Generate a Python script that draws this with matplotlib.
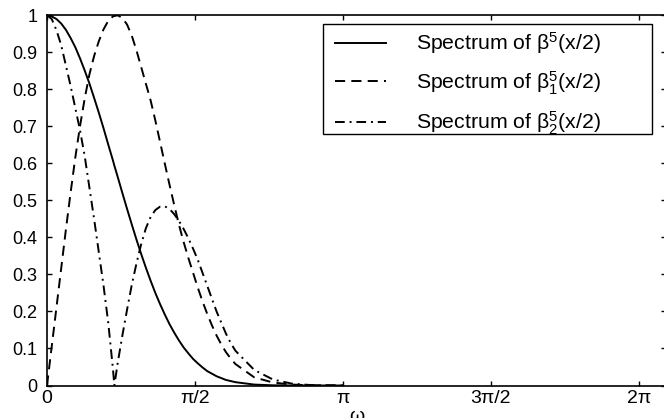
import numpy as np
import matplotlib
matplotlib.use("Agg")
import matplotlib.pyplot as plt
from matplotlib.patches import Rectangle

plt.rcParams['font.family'] = ['Liberation Sans', 'DejaVu Sans']
plt.rcParams['mathtext.fontset'] = 'custom'
plt.rcParams['mathtext.rm'] = 'Liberation Sans'
plt.rcParams['mathtext.it'] = 'Liberation Sans:italic'
plt.rcParams['mathtext.bf'] = 'Liberation Sans:bold'

# frequency samples (rad)
omega = [0.0, 0.05, 0.1, 0.15, 0.2, 0.25, 0.3, 0.35, 0.4, 0.45, 0.5, 0.55, 0.6, 0.65, 0.7, 0.715,
         0.75, 0.8, 0.85, 0.9, 0.95, 1.0, 1.05, 1.1, 1.15, 1.2, 1.25, 1.3, 1.35, 1.4, 1.45, 1.5,
         1.55, 1.6, 1.65, 1.7, 1.75, 1.8, 1.85, 1.9, 1.95, 2.0, 2.2, 2.4, 2.6, 2.8, 3.0, 3.14]

# Spectrum of beta^5(x/2)
spec_b = [1.0, 0.997, 0.990, 0.978, 0.961, 0.939, 0.914, 0.884, 0.851, 0.816, 0.777, 0.737, 0.695, 0.651, 0.608, 0.594,
          0.564, 0.520, 0.477, 0.435, 0.394, 0.355, 0.318, 0.283, 0.250, 0.220, 0.192, 0.166, 0.143, 0.122, 0.103, 0.087,
          0.072, 0.060, 0.049, 0.039, 0.032, 0.025, 0.020, 0.015, 0.012, 0.009, 0.0025, 0.0005, 0.0001, 0.0, 0.0, 0.0]

# Spectrum of beta_1^5(x/2)
spec_b1 = [0.0, 0.105, 0.21, 0.315, 0.42, 0.52, 0.615, 0.70, 0.775, 0.84, 0.89, 0.93, 0.962, 0.985, 0.997, 0.998,
           1.0, 0.993, 0.975, 0.945, 0.905, 0.86, 0.815, 0.77, 0.716, 0.658, 0.60, 0.543, 0.488, 0.435, 0.388, 0.345,
           0.305, 0.265, 0.228, 0.194, 0.163, 0.135, 0.111, 0.09, 0.073, 0.058, 0.022, 0.008, 0.0025, 0.0006, 0.0001, 0.0]

# Spectrum of beta_2^5(x/2)
spec_b2 = [1.0, 0.99, 0.96, 0.92, 0.865, 0.81, 0.75, 0.69, 0.62, 0.535, 0.45, 0.36, 0.27, 0.17, 0.045, 0.0,
           0.06, 0.135, 0.205, 0.272, 0.33, 0.382, 0.425, 0.455, 0.474, 0.483, 0.484, 0.477, 0.463, 0.445, 0.423, 0.398,
           0.37, 0.34, 0.305, 0.27, 0.235, 0.2, 0.17, 0.14, 0.115, 0.094, 0.042, 0.016, 0.005, 0.0012, 0.0002, 0.0]

labels = [r'Spectrum of β$^5$(x/2)', r'Spectrum of β$_1^5$(x/2)', r'Spectrum of β$_2^5$(x/2)']
xtick_vals = [0, np.pi / 2, np.pi, 3 * np.pi / 2, 2 * np.pi]
xtick_labels = ['0', 'π/2', 'π', '3π/2', '2π']
ytick_vals = [0, 0.1, 0.2, 0.3, 0.4, 0.5, 0.6, 0.7, 0.8, 0.9, 1]
ytick_labels = ['0', '0.1', '0.2', '0.3', '0.4', '0.5', '0.6', '0.7', '0.8', '0.9', '1']

W, H = 664, 418
fig = plt.figure(figsize=(W / 100, H / 100), dpi=100)
L, R, T, B = 47, 666, 15.3, 385.5
ax = fig.add_axes([L / W, 1 - B / H, (R - L) / W, (B - T) / H])

lw = 1.4
ax.plot(omega, spec_b, color='black', lw=lw, linestyle='-', label=labels[0])
ax.plot(omega, spec_b1, color='black', lw=lw, linestyle=(0, (5.2, 3.2)), label=labels[1])
ax.plot(omega, spec_b2, color='black', lw=lw, linestyle=(0, (5, 2.5, 1, 2.5)), label=labels[2])

ax.set_xlim(0, (R - L) / 94.2)
ax.set_ylim(0, 1)
ax.set_xticks(xtick_vals)
ax.set_xticklabels(xtick_labels)
ax.set_yticks(ytick_vals)
ax.set_yticklabels(ytick_labels)
ax.tick_params(direction='in', length=3.5, width=1.0, top=True, right=True, colors='black')
ax.tick_params(axis='x', pad=3, labelsize=14)
ax.tick_params(axis='y', pad=7, labelsize=13)
for s in ax.spines.values():
    s.set_linewidth(1.2)
    s.set_color('black')

ax.set_xlabel('ω', fontsize=14, labelpad=1)

# legend box (MATLAB-style tight frame)
def px2ax(xp, yp):
    return (xp - L) / (R - L), (B - yp) / (B - T)

bx0, by0 = px2ax(323, 134)
bx1, by1 = px2ax(652, 24)
box = Rectangle((bx0, by0), bx1 - bx0, by1 - by0, transform=ax.transAxes,
                facecolor='white', edgecolor='black', linewidth=1.0, zorder=4)
ax.add_patch(box)

lx, ly = px2ax(335, 30.5)
leg = ax.legend(loc='upper left', bbox_to_anchor=(lx, ly), fontsize=15.3, frameon=False,
                handlelength=2.4, handletextpad=1.4, borderpad=0.0, labelspacing=0.6,
                borderaxespad=0)
leg.set_zorder(5)

fig.savefig('out.png', dpi=100)
